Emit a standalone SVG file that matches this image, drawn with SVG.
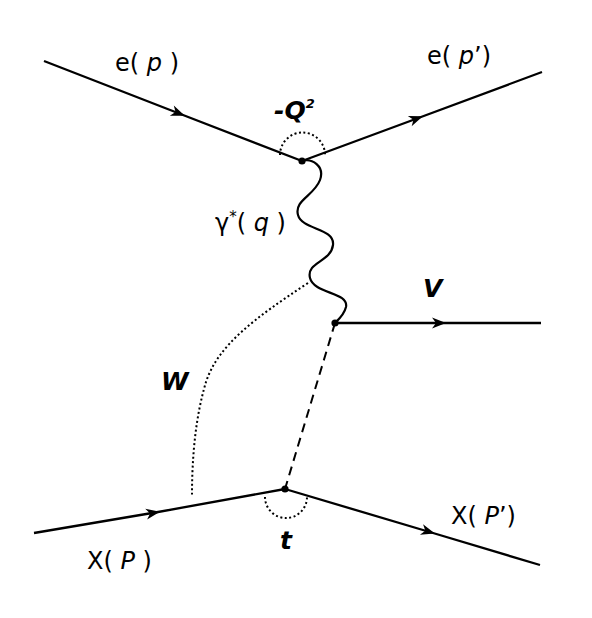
<svg xmlns="http://www.w3.org/2000/svg" width="592" height="618" viewBox="0 0 592 618">
<style>
.line{fill:none;stroke:#000;stroke-width:2.3;marker-mid:url(#arr)}
.dot{fill:none;stroke:#000;stroke-width:2;stroke-dasharray:2 2.5}
.lbl{font-family:"DejaVu Sans",sans-serif;font-size:24px;fill:#000}
.bi{font-family:"DejaVu Sans",sans-serif;font-size:25px;font-weight:bold;font-style:italic;fill:#000}
</style>
<defs>
<marker id="arr" viewBox="-14 -7 18 14" markerWidth="18" markerHeight="14" refX="0" refY="0" orient="auto" markerUnits="userSpaceOnUse">
<path d="M-12,-5.5 L2,0 L-12,5.5 L-8,0 Z" fill="#000"/>
</marker>
</defs>
<rect width="592" height="618" fill="#fff"/>
<g id="connectors">
<polyline class="line" points="44,61 183,115 302,161"/>
<polyline class="line" points="302,161 421,117 542,72" stroke-width="2.7"/>
<polyline class="line" points="335,323 444,323 541,323"/>
<polyline class="line" points="34,533 158,512 285,489"/>
<polyline class="line" points="285,489 433,533 540,565" stroke-width="2.6"/>
<path d="M302,161 C312,158 325,166 320,180 C314,196 294,200 298,215 C302,230 335,228 333,245 C331,262 306,262 310,278 C314,294 349,292 346,307 C344,315 338,320 335,323" fill="none" stroke="#000" stroke-width="2.2"/>
<path d="M335,323 L285,489" fill="none" stroke="#000" stroke-width="2" stroke-dasharray="9 6"/>
<path class="dot" d="M308,283 C255,318 218,345 206,382 C195,418 192,460 192,495"/>
<path class="dot" d="M280,155 A22,22 0 0 1 325,155"/>
<path class="dot" d="M265,497 A21,21 0 0 0 307,497"/>
</g>
<g id="vertex-top"><circle cx="302" cy="161" r="3.6" fill="#000"/></g>
<g id="vertex-mid"><circle cx="335" cy="323" r="3.6" fill="#000"/></g>
<g id="vertex-bottom"><circle cx="285" cy="489" r="3.6" fill="#000"/></g>
<g id="labels">
<text class="lbl" x="115" y="71">e( <tspan font-style="italic">p</tspan> )</text>
<text class="lbl" x="427" y="64">e( <tspan font-style="italic">p</tspan>’)</text>
<text class="bi" x="274" y="119">-Q<tspan font-size="13" dy="-11">2</tspan></text>
<text class="lbl" x="215" y="231">γ<tspan font-size="15" dy="-9">*</tspan><tspan dy="9">( <tspan font-style="italic">q</tspan> )</tspan></text>
<text class="bi" x="423" y="297">V</text>
<text class="bi" x="161" y="390">W</text>
<text class="bi" x="280" y="549">t</text>
<text class="lbl" x="87" y="569">X( <tspan font-style="italic">P</tspan> )</text>
<text class="lbl" x="451" y="524">X( <tspan font-style="italic">P</tspan>’)</text>
</g>
</svg>
